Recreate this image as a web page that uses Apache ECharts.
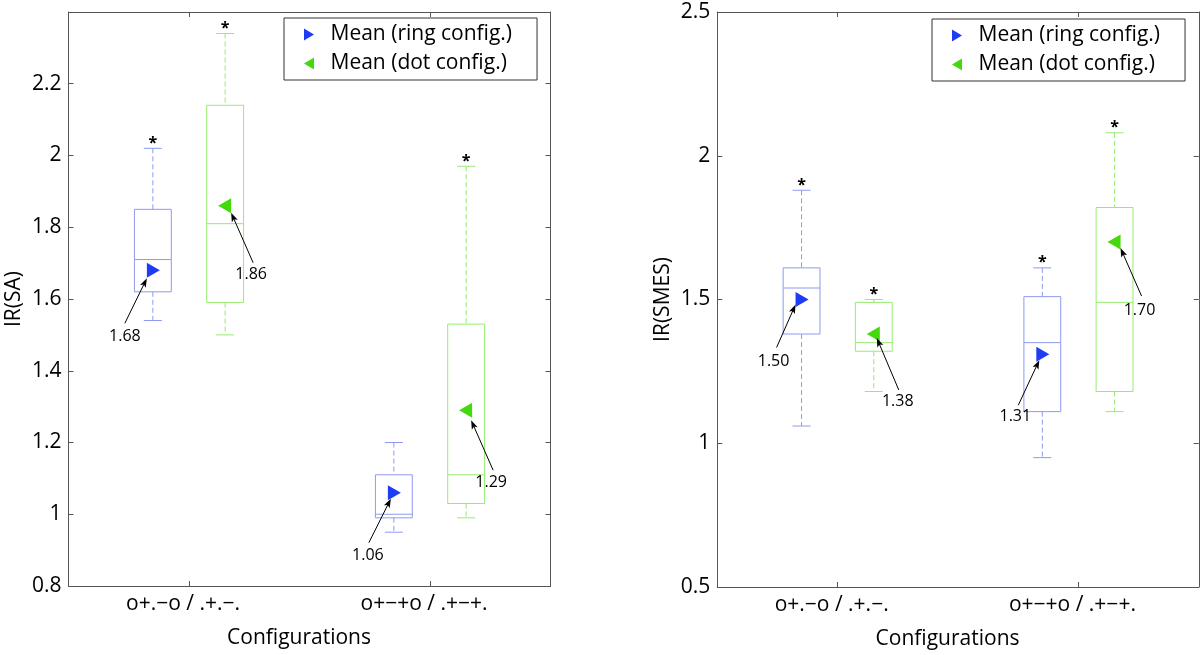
<!DOCTYPE html>
<html>
<head>
<meta charset="utf-8">
<script src="https://cdn.jsdelivr.net/npm/echarts@6/dist/echarts.min.js"></script>
<style>
html,body{margin:0;padding:0;background:#fff;}
#chart{width:1200px;height:655px;}
</style>
</head>
<body>
<div id="chart"></div>
<script>
// ---------- DATA ----------
const categories = ['o+.\u2212o / .+.\u2212.', 'o+\u2212+o / .+\u2212+.'];
const seriesNames = ['Mean (ring config.)', 'Mean (dot config.)'];

// box stats per category: [low whisker, Q1, median, Q3, high whisker]
const saRingBox = [[1.54, 1.62, 1.71, 1.85, 2.02], [0.95, 0.99, 1.00, 1.11, 1.20]];
const saDotBox  = [[1.50, 1.59, 1.81, 2.14, 2.34], [0.99, 1.03, 1.11, 1.53, 1.97]];
const saRingMean = [1.68, 1.06];
const saDotMean  = [1.86, 1.29];
const saRingStar = [1, 0];
const saDotStar  = [1, 1];

const smesRingBox = [[1.06, 1.38, 1.54, 1.61, 1.88], [0.95, 1.11, 1.35, 1.51, 1.61]];
const smesDotBox  = [[1.18, 1.32, 1.35, 1.49, 1.50], [1.11, 1.18, 1.49, 1.82, 2.08]];
const smesRingMean = [1.50, 1.31];
const smesDotMean  = [1.38, 1.70];
const smesRingStar = [1, 1];
const smesDotStar  = [1, 1];

const saAxis = {min: 0.8, max: 2.4, interval: 0.2, name: 'IR(SA)', showMax: false};
const smesAxis = {min: 0.5, max: 2.5, interval: 0.5, name: 'IR(SMES)', showMax: true};
const xName = 'Configurations';

// ---------- STYLE ----------
const FONT = "'Open Sans', sans-serif";
const frameColor = '#555';
const ringBoxColor = '#8e9af0';
const dotBoxColor = '#96ec72';
const ringMarkColor = '#1f3cf5';
const dotMarkColor = '#44d90a';
const ICON_RIGHT = 'path://M0,0L10,6L0,12Z';
const ICON_LEFT = 'path://M10,0L0,6L10,12Z';
// annotation pixel offsets from marker: [tipDx, tipDy, tailDx, tailDy, labelDx, labelDy]
const saRingAnn = [[-6, 8, -28, 53, -28, 66], [-3, 6, -25, 50, -26, 63]];
const saDotAnn  = [[6, 7, 28, 57, 26, 69], [5, 10, 27, 60, 25, 72]];
const smesRingAnn = [[-6, 5, -25, 48, -28, 62], [-3, 6, -24, 51, -27, 62]];
const smesDotAnn  = [[3, 4, 25, 56, 24, 67], [6, 6, 27, 54, 25, 68]];

function boxRender(offsetFrac, color) {
  return function (params, api) {
    const cat = api.value(0);
    const band = api.size([1, 0])[0];
    const cx = api.coord([cat, 0])[0] + offsetFrac * band;
    const y = k => api.coord([cat, api.value(k)])[1];
    const yLow = y(1), yQ1 = y(2), yMed = y(3), yQ3 = y(4), yHigh = y(5);
    const bw = band * 0.153, cw = band * 0.075;
    const dashed = {stroke: color, lineWidth: 1, lineDash: [5, 3]};
    const solid = {stroke: color, lineWidth: 1};
    const children = [
      {type: 'line', shape: {x1: cx, y1: yHigh, x2: cx, y2: yQ3}, style: dashed},
      {type: 'line', shape: {x1: cx, y1: yQ1, x2: cx, y2: yLow}, style: dashed},
      {type: 'line', shape: {x1: cx - cw / 2, y1: yHigh, x2: cx + cw / 2, y2: yHigh}, style: solid},
      {type: 'line', shape: {x1: cx - cw / 2, y1: yLow, x2: cx + cw / 2, y2: yLow}, style: solid},
      {type: 'rect', shape: {x: cx - bw / 2, y: yQ3, width: bw, height: yQ1 - yQ3}, style: {fill: 'none', stroke: color, lineWidth: 1}},
      {type: 'line', shape: {x1: cx - bw / 2, y1: yMed, x2: cx + bw / 2, y2: yMed}, style: solid}
    ];
    if (api.value(6)) {
      children.push({type: 'text', x: cx, y: yHigh - 5,
        style: {text: '*', fill: '#000', fontSize: 16, fontFamily: FONT, fontWeight: 'bold', align: 'center', verticalAlign: 'middle'}});
    }
    return {type: 'group', children};
  };
}

function meanRender(offsetFrac, dir, color, ann) {
  return function (params, api) {
    const i = params.dataIndex;
    const cat = api.value(0), v = api.value(1);
    const band = api.size([1, 0])[0];
    const p = api.coord([cat, v]);
    const cx = p[0] + offsetFrac * band, cy = p[1];
    const a = ann[i];
    const tip = [cx + a[0], cy + a[1]], tail = [cx + a[2], cy + a[3]];
    const dx = tip[0] - tail[0], dy = tip[1] - tail[1];
    const L = Math.sqrt(dx * dx + dy * dy);
    const ux = dx / L, uy = dy / L, nx = -uy, ny = ux;
    const hl = 9, hw = 3.2;
    const tri = dir > 0
      ? [[cx - 6, cy - 7.5], [cx + 7, cy], [cx - 6, cy + 7.5]]
      : [[cx + 6, cy - 7.5], [cx - 7, cy], [cx + 6, cy + 7.5]];
    return {type: 'group', children: [
      {type: 'polygon', shape: {points: tri}, style: {fill: color}},
      {type: 'line', shape: {x1: tail[0], y1: tail[1], x2: tip[0] - ux * 4, y2: tip[1] - uy * 4}, style: {stroke: '#000', lineWidth: 1}},
      {type: 'polygon', shape: {points: [tip, [tip[0] - ux * hl + nx * hw, tip[1] - uy * hl + ny * hw], [tip[0] - ux * (hl - 2), tip[1] - uy * (hl - 2)], [tip[0] - ux * hl - nx * hw, tip[1] - uy * hl - ny * hw]]}, style: {fill: '#000'}},
      {type: 'text', x: cx + a[4], y: cy + a[5],
        style: {text: v.toFixed(2), fill: '#000', fontSize: 16, fontFamily: FONT, align: 'center', verticalAlign: 'middle'}}
    ]};
  };
}

function boxData(box, stars) {
  return box.map((b, i) => [i].concat(b).concat([stars[i]]));
}
function meanData(means) {
  return means.map((m, i) => [i, m]);
}

function chartSeries(xi, yi, ringBox, dotBox, ringMean, dotMean, ringStar, dotStar, ringAnn, dotAnn) {
  return [
    {type: 'custom', name: 'ring box', xAxisIndex: xi, yAxisIndex: yi, renderItem: boxRender(-0.15, ringBoxColor),
      encode: {x: 0, y: [1, 2, 3, 4, 5]}, data: boxData(ringBox, ringStar), silent: true},
    {type: 'custom', name: 'dot box', xAxisIndex: xi, yAxisIndex: yi, renderItem: boxRender(0.15, dotBoxColor),
      encode: {x: 0, y: [1, 2, 3, 4, 5]}, data: boxData(dotBox, dotStar), silent: true},
    {type: 'custom', name: seriesNames[0], xAxisIndex: xi, yAxisIndex: yi, itemStyle: {color: ringMarkColor},
      renderItem: meanRender(-0.15, 1, ringMarkColor, ringAnn), encode: {x: 0, y: 1}, data: meanData(ringMean), silent: true, z: 5},
    {type: 'custom', name: seriesNames[1], xAxisIndex: xi, yAxisIndex: yi, itemStyle: {color: dotMarkColor},
      renderItem: meanRender(0.15, -1, dotMarkColor, dotAnn), encode: {x: 0, y: 1}, data: meanData(dotMean), silent: true, z: 5}
  ];
}

function xAxes(gi) {
  const line = {show: true, lineStyle: {color: frameColor, width: 1}};
  const tick = {show: true, inside: true, alignWithLabel: true, length: 5, lineStyle: {color: frameColor}};
  return [
    {type: 'category', gridIndex: gi, data: categories, position: 'bottom', axisLine: line, axisTick: tick,
      axisLabel: {fontSize: 21, fontFamily: FONT, color: '#000', margin: 8, padding: [0, 12, 0, 0]},
      name: xName, nameLocation: 'middle', nameGap: 42,
      nameTextStyle: {fontSize: 21, fontFamily: FONT, color: '#000', padding: [0, 21, 0, 0]}},
    {type: 'category', gridIndex: gi, data: categories, position: 'top', axisLine: line, axisTick: tick,
      axisLabel: {show: false}}
  ];
}
function yAxes(gi, ax) {
  const line = {show: true, lineStyle: {color: frameColor, width: 1}};
  const tick = {show: true, inside: true, length: 5, lineStyle: {color: frameColor}};
  return [
    {type: 'value', gridIndex: gi, position: 'left', min: ax.min, max: ax.max, interval: ax.interval,
      axisLine: line, axisTick: tick, splitLine: {show: false},
      axisLabel: {fontSize: 21, fontFamily: FONT, color: '#000', margin: 7, showMaxLabel: ax.showMax},
      name: ax.name, nameLocation: 'middle', nameGap: 44,
      nameTextStyle: {fontSize: 21, fontFamily: FONT, color: '#000'}},
    {type: 'value', gridIndex: gi, position: 'right', min: ax.min, max: ax.max, interval: ax.interval,
      axisLine: line, axisTick: tick, splitLine: {show: false}, axisLabel: {show: false}}
  ];
}
function legendAt(left, top) {
  return {
    data: [{name: seriesNames[0], icon: ICON_RIGHT}, {name: seriesNames[1], icon: ICON_LEFT}],
    orient: 'vertical', left: left, top: top, itemWidth: 11, itemHeight: 12, itemGap: 8,
    padding: [6, 25, 6, 20], borderColor: '#333', borderWidth: 1, backgroundColor: '#fff',
    selectedMode: false,
    textStyle: {fontFamily: FONT, fontSize: 21, color: '#000', lineHeight: 21, padding: [0, 0, 0, 11]}
  };
}

const chart = echarts.init(document.getElementById('chart'), null, {renderer: 'canvas'});
chart.setOption({
  animation: false,
  backgroundColor: '#fff',
  grid: [
    {left: 68.5, top: 12, width: 482, height: 574},
    {left: 717.3, top: 12, width: 481.5, height: 575.3}
  ],
  xAxis: xAxes(0).concat(xAxes(1)),
  yAxis: yAxes(0, saAxis).concat(yAxes(1, smesAxis)),
  legend: [legendAt(284, 18), legendAt(932, 19)],
  series: chartSeries(0, 0, saRingBox, saDotBox, saRingMean, saDotMean, saRingStar, saDotStar, saRingAnn, saDotAnn)
    .concat(chartSeries(2, 2, smesRingBox, smesDotBox, smesRingMean, smesDotMean, smesRingStar, smesDotStar, smesRingAnn, smesDotAnn))
});
</script>
</body>
</html>
